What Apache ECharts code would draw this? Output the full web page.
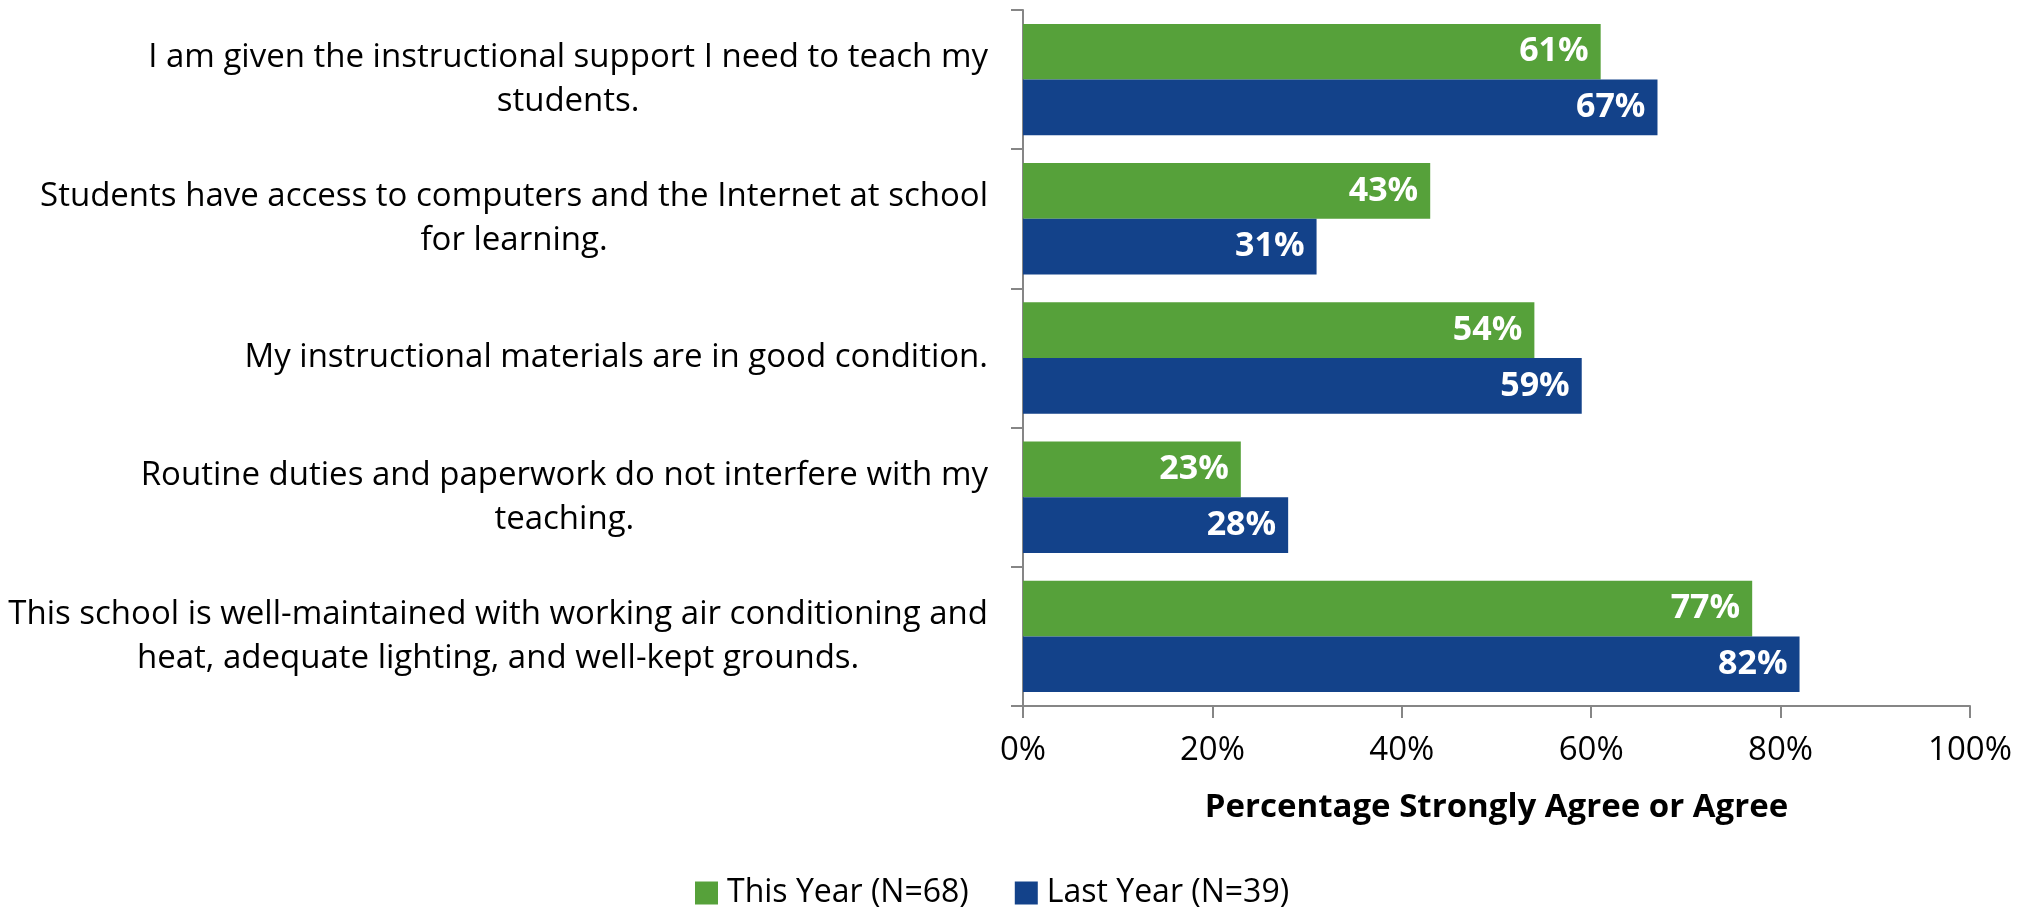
<!DOCTYPE html>
<html><head><meta charset="utf-8">
<script src="https://cdn.jsdelivr.net/npm/echarts@6/dist/echarts.min.js"></script>
<style>html,body{margin:0;padding:0;background:#fff}#c{width:2030px;height:909px}</style>
</head><body><div id="c"></div>
<script>
const categories = [
  "I am given the instructional support I need to teach my\nstudents.",
  "Students have access to computers and the Internet at school\nfor learning.",
  "My instructional materials are in good condition.",
  "Routine duties and paperwork do not interfere with my\nteaching.",
  "This school is well-maintained with working air conditioning and\nheat, adequate lighting, and well-kept grounds."
];
const thisYear = [61, 43, 54, 23, 77];
const lastYear = [67, 31, 59, 28, 82];
const seriesNames = ["This Year (N=68)", "Last Year (N=39)"];

const FONT = '"Open Sans", sans-serif';
const chart = echarts.init(document.getElementById('c'), null, {renderer: 'canvas'});
const lbl = {show: true, position: 'insideRight', distance: 12, color: '#fff', fontWeight: 'bold', fontSize: 34, fontFamily: FONT, formatter: p => p.value + '%'};
chart.setOption({
  animation: false,
  grid: {left: 1023, right: 60, top: 10, bottom: 203, containLabel: false, outerBoundsMode: 'none'},
  legend: {
    top: 872, left: 690, itemWidth: 23, itemHeight: 23, itemGap: 46,
    icon: 'rect',
    textStyle: {fontSize: 32, fontFamily: FONT, color: '#000', padding: [0, 0, 0, 4]},
    data: seriesNames
  },
  xAxis: {
    type: 'value', min: 0, max: 100, interval: 20,
    name: 'Percentage Strongly Agree or Agree', nameLocation: 'middle', nameGap: 85,
    nameTextStyle: {fontSize: 33, fontWeight: 'bold', fontFamily: FONT, color: '#000'},
    axisLine: {show: true, lineStyle: {color: '#868686', width: 2}},
    axisTick: {show: true, length: 12, lineStyle: {color: '#868686', width: 2}},
    splitLine: {show: false},
    axisLabel: {fontSize: 33, fontFamily: FONT, color: '#000', margin: 28, formatter: v => v + '%'}
  },
  yAxis: {
    type: 'category', inverse: true, data: categories,
    axisLine: {show: true, lineStyle: {color: '#868686', width: 2}},
    axisTick: {show: true, length: 12, lineStyle: {color: '#868686', width: 2}},
    axisLabel: {
      margin: 35, color: '#000', fontSize: 33, fontFamily: FONT, lineHeight: 44,
      formatter: v => v.split('\n').map(l => '{c|' + l + '}').join('\n'),
      rich: {c: {align: 'center', fontSize: 33, fontFamily: FONT, color: '#000', lineHeight: 44}}
    }
  },
  series: [
    {name: seriesNames[0], type: 'bar', data: thisYear, barGap: '0%', barCategoryGap: '20%', itemStyle: {color: '#56A13A'}, label: lbl},
    {name: seriesNames[1], type: 'bar', data: lastYear, barGap: '0%', barCategoryGap: '20%', itemStyle: {color: '#13428A'}, label: lbl}
  ]
});
</script></body></html>
